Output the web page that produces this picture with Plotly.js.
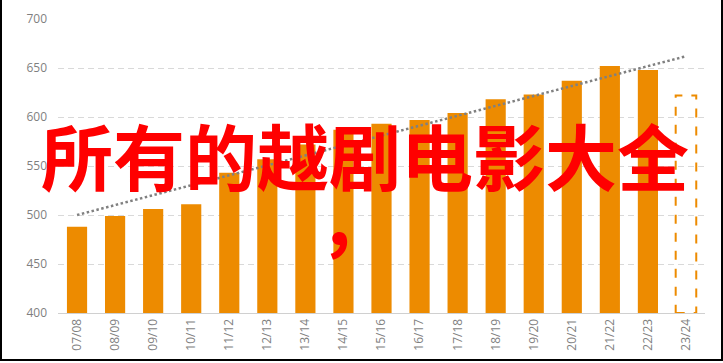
<!DOCTYPE html>
<html>
<head>
<meta charset="utf-8">
<script src="https://cdn.plot.ly/plotly-3.0.1.min.js"></script>
<style>
html,body{margin:0;padding:0;background:#fff;}
#wrap{position:absolute;left:0;top:0;width:723px;height:361px;box-sizing:border-box;border-left:2px solid #000;border-right:2px solid #000;border-bottom:2px solid #000;overflow:hidden;}
#chart{position:absolute;left:-2px;top:0;width:723px;height:363px;}
</style>
</head>
<body>
<div id="wrap"><div id="chart"></div></div>
<script>
var seasons = ['07/08','08/09','09/10','10/11','11/12','12/13','13/14','14/15','15/16','16/17','17/18','18/19','19/20','20/21','21/22','22/23','23/24'];
var values = [488, 499, 506, 511, 543, 557, 572, 587, 593, 597, 604, 618, 623, 637, 652, 648, null];
var forecastSeason = '23/24';
var forecastValue = 622;
var trendSeasons = ['07/08', '23/24'];
var trendValues = [500, 662];
var yTicks = [400, 450, 500, 550, 600, 650, 700];
var titleText = '所有的越剧电影大全';
var titleTail = '，';

var orange = '#ED8B00';
var fIdx = seasons.indexOf(forecastSeason);
var half = 0.27;

var traces = [
  {
    type: 'bar', x: seasons, y: values,
    marker: {color: orange},
    hoverinfo: 'x+y', showlegend: false
  },
  {
    type: 'scatter', mode: 'lines', x: trendSeasons, y: trendValues,
    line: {color: '#808080', width: 2.5, dash: '2.5px,2.5px'},
    hoverinfo: 'skip', showlegend: false
  }
];

var layout = {
  width: 723, height: 363,
  margin: {l: 58, r: 18, t: 19, b: 50},
  paper_bgcolor: '#fff', plot_bgcolor: '#fff',
  bargap: 0.47,
  showlegend: false,
  xaxis: {
    type: 'category',
    tickangle: -90,
    tickfont: {family: 'Open Sans, sans-serif', size: 12, color: '#7f7f7f'},
    showgrid: false,
    showline: true, linecolor: '#d0d0d0', linewidth: 1,
    ticks: '', ticklen: 0,
    range: [-0.5, seasons.length - 0.5]
  },
  yaxis: {
    range: [400, 700],
    tickvals: yTicks,
    ticktext: yTicks.map(String),
    tickfont: {family: 'Open Sans, sans-serif', size: 12, color: '#7f7f7f'},
    showgrid: true, gridcolor: '#d9d9d9', gridwidth: 1, griddash: '6px,4px',
    zeroline: false, showline: false, ticks: '',
    ticklabelstandoff: 10
  },
  shapes: [
    {
      type: 'rect', xref: 'x', yref: 'y',
      x0: fIdx - half, x1: fIdx + half, y0: 400, y1: forecastValue,
      line: {color: orange, width: 2, dash: 'dash'},
      fillcolor: 'rgba(0,0,0,0)'
    }
  ],
  annotations: [
    {
      xref: 'paper', yref: 'paper', x: 0.4745, y: 0.544,
      xanchor: 'center', yanchor: 'middle',
      text: titleText, showarrow: false,
      font: {family: 'Noto Sans CJK SC, sans-serif', size: 72, color: '#FF0000', weight: 700}
    },
    {
      xref: 'paper', yref: 'paper', x: 0.459, y: 0.325,
      xanchor: 'center', yanchor: 'middle',
      text: titleTail, showarrow: false,
      font: {family: 'Noto Sans CJK SC, sans-serif', size: 72, color: '#FF0000', weight: 700}
    }
  ]
};

Plotly.newPlot('chart', traces, layout, {staticPlot: true, displayModeBar: false});
</script>
</body>
</html>
